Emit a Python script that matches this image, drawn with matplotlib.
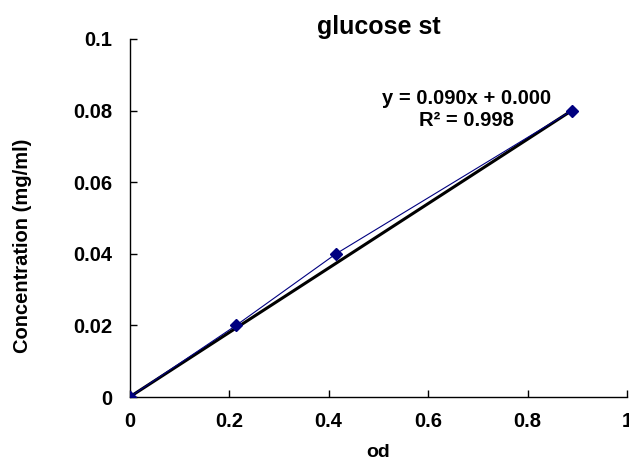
import numpy
import matplotlib
matplotlib.use("Agg")
import matplotlib.pyplot as plt

plt.rcParams["font.family"] = ["Liberation Sans", "DejaVu Sans"]
plt.rcParams["font.weight"] = "bold"

# glucose standard: absorbance vs concentration
od = [0.0, 0.214, 0.415, 0.889]
conc = [0.0, 0.02, 0.04, 0.08]

# linear trendline as reported
slope = 0.090
intercept = 0.000
r2 = 0.998

xticks = [0, 0.2, 0.4, 0.6, 0.8, 1]
xtick_labels = ["0", "0.2", "0.4", "0.6", "0.8", "1"]
yticks = [0, 0.02, 0.04, 0.06, 0.08, 0.1]
ytick_labels = ["0", "0.02", "0.04", "0.06", "0.08", "0.1"]

fig = plt.figure(figsize=(6.29, 4.63), dpi=100)
ax = fig.add_axes([0.206, 0.1425, 0.791, 0.7735])

ax.plot(od, conc, color="#000080", linewidth=0.8, marker="D",
        markersize=6, markerfacecolor="#000080", markeredgecolor="#000080", zorder=3)

xs = numpy.array([0.0, od[-1]])
ax.plot(xs, slope * xs + intercept, color="black", linewidth=2.2, zorder=2)

ax.set_xlim(0, 1)
ax.set_ylim(0, 0.1)
ax.set_xticks(xticks)
ax.set_xticklabels(xtick_labels)
ax.set_yticks(yticks)
ax.set_yticklabels(ytick_labels)
ax.tick_params(axis="both", direction="in", length=5, width=1, labelsize=14.5)
ax.tick_params(axis="y", pad=12.5)
ax.tick_params(axis="x", pad=11)

ax.spines["top"].set_visible(False)
ax.spines["right"].set_visible(False)
for s in ["left", "bottom"]:
    ax.spines[s].set_linewidth(1.0)

ax.set_title("glucose st", fontsize=18, fontweight="bold", pad=3)
ax.set_xlabel("od", fontsize=14, fontweight="bold")
ax.xaxis.set_label_coords(0.5, -0.13)
ax.set_ylabel("Concentration (mg/ml)", fontsize=14.5, fontweight="bold")
ax.yaxis.set_label_coords(-0.196, 0.423)

ax.text(0.678, 0.0802, f"y = {slope:.3f}x + {intercept:.3f}\nR\u00b2 = {r2:.3f}",
        fontsize=14.5, fontweight="bold", ha="center", va="center", linespacing=1.2)

fig.savefig("out.png", dpi=100)
